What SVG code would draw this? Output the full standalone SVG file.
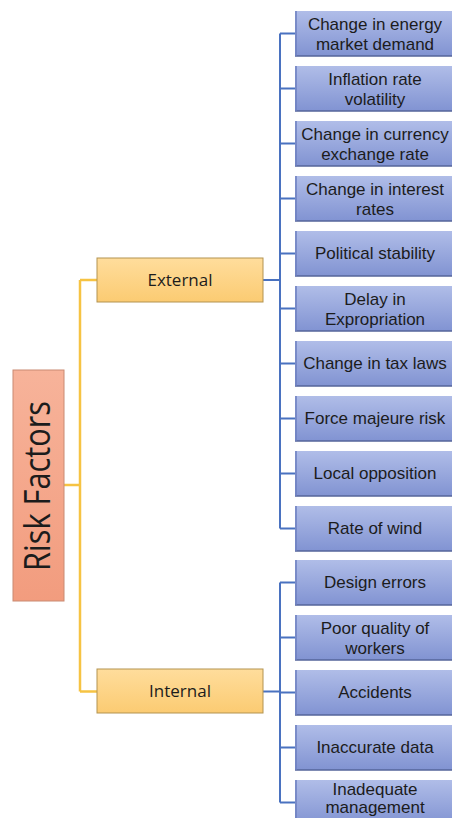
<svg xmlns="http://www.w3.org/2000/svg" width="452" height="818" viewBox="0 0 452 818">
<defs>
<linearGradient id="gb" x1="0" y1="0" x2="0" y2="1">
<stop offset="0" stop-color="#B0BDE8"/>
<stop offset="1" stop-color="#8193D2"/>
</linearGradient>
<linearGradient id="gy" x1="0" y1="0" x2="0" y2="1">
<stop offset="0" stop-color="#FFDD9C"/>
<stop offset="1" stop-color="#FBCB72"/>
</linearGradient>
<linearGradient id="gr" x1="0" y1="0" x2="0" y2="1">
<stop offset="0" stop-color="#F7B39A"/>
<stop offset="1" stop-color="#F29C7E"/>
</linearGradient>
</defs>
<style>
.leaf rect{fill:url(#gb);}
.leaf .edge{stroke:#55649A;stroke-width:1.5;fill:none;}
.leaf .ledge{stroke:#6D7FBF;stroke-width:1.5;fill:none;}
.t{font-family:"Liberation Sans",Arial,sans-serif;font-size:17px;fill:#1c1c1c;text-anchor:middle;}
.cat rect{fill:url(#gy);stroke:#B39350;stroke-width:1;}
.ct{font-family:"Open Sans","Liberation Sans",sans-serif;font-size:17px;fill:#1c1c1c;text-anchor:middle;}
.blue{stroke:#4A72C0;stroke-width:2;fill:none;}
.yel{stroke:#F6C343;stroke-width:2.5;fill:none;}
</style>
<g id="connectors">
<path class="yel" d="M64 485 H80 M80 280 V691.5 M80 280 H97 M80 691.5 H97"/>
<path class="blue" d="M263 280 H280 M280 33.5 V528.5 M280 33.5 H295 M280 88.5 H295 M280 143.5 H295 M280 198.5 H295 M280 253.5 H295 M280 308.5 H295 M280 363.5 H295 M280 418.5 H295 M280 473.5 H295 M280 528.5 H295"/>
<path class="blue" d="M263 691.5 H280 M280 582.5 V802.5 M280 582.5 H295 M280 637.5 H295 M280 692.5 H295 M280 747.5 H295 M280 802.5 H295"/>
</g>
<g id="root">
<rect x="13" y="370" width="51" height="231" fill="url(#gr)" stroke="#C98A72" stroke-width="1"/>
<text transform="translate(50,486) rotate(-90)" font-family="'Open Sans','Liberation Sans',sans-serif" font-size="37" fill="#1c1c1c" text-anchor="middle" textLength="170" lengthAdjust="spacingAndGlyphs">Risk Factors</text>
</g>
<g id="external" class="cat"><rect x="97" y="258" width="166" height="44"/><text class="ct" x="180" y="286">External</text></g>
<g id="internal" class="cat"><rect x="97" y="669" width="166" height="44"/><text class="ct" x="180" y="697">Internal</text></g>
<g id="e1" class="leaf"><rect x="295" y="11" width="162" height="45"/><path class="edge" d="M295 56 H457"/><path class="ledge" d="M296 11 V56"/><text class="t" x="375" y="30">Change in energy</text><text class="t" x="375" y="50">market demand</text></g>
<g id="e2" class="leaf"><rect x="295" y="66" width="162" height="45"/><path class="edge" d="M295 111 H457"/><path class="ledge" d="M296 66 V111"/><text class="t" x="375" y="85">Inflation rate</text><text class="t" x="375" y="105">volatility</text></g>
<g id="e3" class="leaf"><rect x="295" y="121" width="162" height="45"/><path class="edge" d="M295 166 H457"/><path class="ledge" d="M296 121 V166"/><text class="t" x="375" y="140">Change in currency</text><text class="t" x="375" y="160">exchange rate</text></g>
<g id="e4" class="leaf"><rect x="295" y="176" width="162" height="45"/><path class="edge" d="M295 221 H457"/><path class="ledge" d="M296 176 V221"/><text class="t" x="375" y="195">Change in interest</text><text class="t" x="375" y="215">rates</text></g>
<g id="e5" class="leaf"><rect x="295" y="231" width="162" height="45"/><path class="edge" d="M295 276 H457"/><path class="ledge" d="M296 231 V276"/><text class="t" x="375" y="259">Political stability</text></g>
<g id="e6" class="leaf"><rect x="295" y="286" width="162" height="45"/><path class="edge" d="M295 331 H457"/><path class="ledge" d="M296 286 V331"/><text class="t" x="375" y="305">Delay in</text><text class="t" x="375" y="325">Expropriation</text></g>
<g id="e7" class="leaf"><rect x="295" y="341" width="162" height="45"/><path class="edge" d="M295 386 H457"/><path class="ledge" d="M296 341 V386"/><text class="t" x="375" y="369">Change in tax laws</text></g>
<g id="e8" class="leaf"><rect x="295" y="396" width="162" height="45"/><path class="edge" d="M295 441 H457"/><path class="ledge" d="M296 396 V441"/><text class="t" x="375" y="424">Force majeure risk</text></g>
<g id="e9" class="leaf"><rect x="295" y="451" width="162" height="45"/><path class="edge" d="M295 496 H457"/><path class="ledge" d="M296 451 V496"/><text class="t" x="375" y="479">Local opposition</text></g>
<g id="e10" class="leaf"><rect x="295" y="506" width="162" height="45"/><path class="edge" d="M295 551 H457"/><path class="ledge" d="M296 506 V551"/><text class="t" x="375" y="534">Rate of wind</text></g>
<g id="i1" class="leaf"><rect x="295" y="560" width="162" height="45"/><path class="edge" d="M295 605 H457"/><path class="ledge" d="M296 560 V605"/><text class="t" x="375" y="588">Design errors</text></g>
<g id="i2" class="leaf"><rect x="295" y="615" width="162" height="45"/><path class="edge" d="M295 660 H457"/><path class="ledge" d="M296 615 V660"/><text class="t" x="375" y="634">Poor quality of</text><text class="t" x="375" y="654">workers</text></g>
<g id="i3" class="leaf"><rect x="295" y="670" width="162" height="45"/><path class="edge" d="M295 715 H457"/><path class="ledge" d="M296 670 V715"/><text class="t" x="375" y="698">Accidents</text></g>
<g id="i4" class="leaf"><rect x="295" y="725" width="162" height="45"/><path class="edge" d="M295 770 H457"/><path class="ledge" d="M296 725 V770"/><text class="t" x="375" y="753">Inaccurate data</text></g>
<g id="i5" class="leaf"><rect x="295" y="780" width="162" height="45"/><path class="ledge" d="M296 780 V825"/><text class="t" x="375" y="795" font-size="15.5">Inadequate</text><text class="t" x="375" y="813" font-size="15.5">management</text></g>
</svg>
